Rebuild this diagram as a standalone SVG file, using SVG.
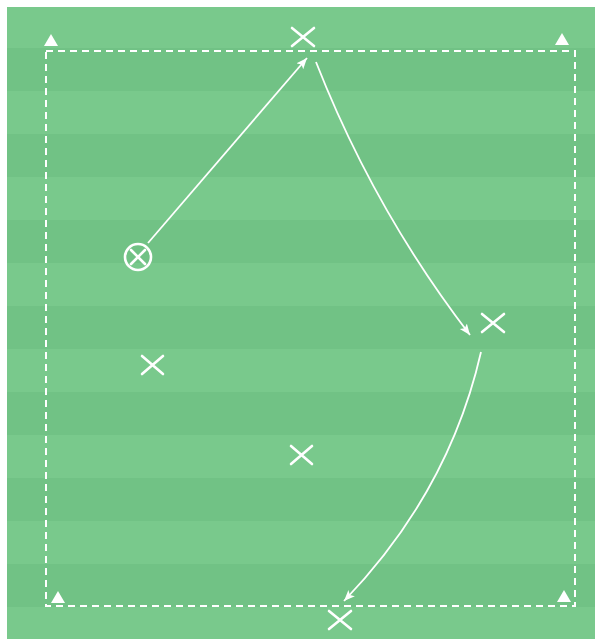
<svg xmlns="http://www.w3.org/2000/svg" width="595" height="639" viewBox="0 0 595 639">
<style>
.light{fill:#79c98c}
.dark{fill:#71c285}
.bound{fill:none;stroke:#ffffff;stroke-width:2;stroke-dasharray:7 5}
.cone{fill:#ffffff}
.player{stroke:#ffffff;stroke-width:2.6;stroke-linecap:round;fill:none}
.arrow{stroke:#ffffff;stroke-width:1.8;fill:none;marker-end:url(#ah)}
</style>
<defs>
<marker id="ah" markerWidth="12" markerHeight="10" refX="11" refY="4.5" orient="auto" markerUnits="userSpaceOnUse">
<path d="M0,0 L11,4.5 L0,9 L2.5,4.5 Z" fill="#ffffff"/>
</marker>
</defs>
<rect x="0" y="0" width="595" height="639" fill="#ffffff"/>
<g id="pitch">
<rect class="light" x="7" y="7" width="588" height="632"/>
<rect class="dark" x="7" y="48" width="588" height="43"/>
<rect class="dark" x="7" y="134" width="588" height="43"/>
<rect class="dark" x="7" y="220" width="588" height="43"/>
<rect class="dark" x="7" y="306" width="588" height="43"/>
<rect class="dark" x="7" y="392" width="588" height="43"/>
<rect class="dark" x="7" y="478" width="588" height="43"/>
<rect class="dark" x="7" y="564" width="588" height="43"/>
</g>
<g id="boundary">
<rect class="bound" x="46" y="51" width="529" height="555"/>
</g>
<g id="cone-tl"><polygon class="cone" points="51,34 58,46 44,46"/></g>
<g id="cone-tr"><polygon class="cone" points="562,33 569,45 555,45"/></g>
<g id="cone-bl"><polygon class="cone" points="58,591 65,603 51,603"/></g>
<g id="cone-br"><polygon class="cone" points="564,590 571,602 557,602"/></g>
<g id="ball">
<circle class="player" cx="138" cy="257" r="13"/>
<line class="player" x1="131" y1="250" x2="145" y2="264"/>
<line class="player" x1="145" y1="250" x2="131" y2="264"/>
</g>
<g id="player-top"><path class="player" d="M292,28 L314,46 M314,28 L292,46"/></g>
<g id="player-right"><path class="player" d="M482,314 L504,332 M504,314 L482,332"/></g>
<g id="player-left"><path class="player" d="M142,356 L163,374 M163,356 L142,374"/></g>
<g id="player-mid"><path class="player" d="M291,446 L312,464 M312,446 L291,464"/></g>
<g id="player-bottom"><path class="player" d="M329,611 L351,629 M351,611 L329,629"/></g>
<g id="connectors">
<line class="arrow" x1="148" y1="243" x2="307" y2="58"/>
<path class="arrow" d="M316,62 Q374,210 470,335"/>
<path class="arrow" d="M481,352 Q449,492 344,601"/>
</g>
</svg>
